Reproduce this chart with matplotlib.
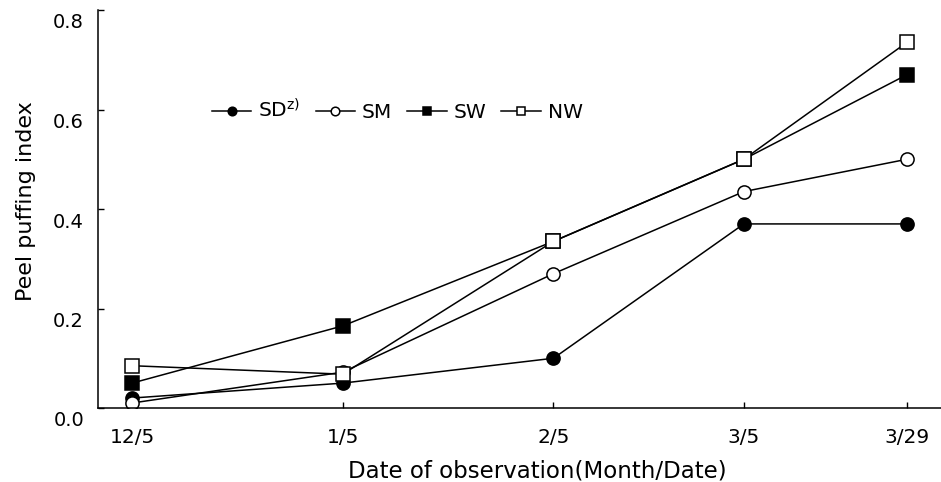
import matplotlib
matplotlib.use("Agg")
import matplotlib.pyplot as plt
import matplotlib.transforms as mtransforms

# Observation dates, expressed as days after 5 December
date_labels = ["12/5", "1/5", "2/5", "3/5", "3/29"]
date_days = [0, 31, 62, 90, 114]

# Peel puffing index for each treatment
sd_values = [0.02, 0.05, 0.10, 0.37, 0.37]
sm_values = [0.01, 0.072, 0.27, 0.435, 0.50]
sw_values = [0.05, 0.165, 0.335, 0.50, 0.67]
nw_values = [0.085, 0.068, 0.335, 0.50, 0.735]

y_ticks = [0.0, 0.2, 0.4, 0.6, 0.8]

fig = plt.figure(figsize=(9.41, 4.82), dpi=100)
ax = fig.add_axes([98 / 941, 74 / 482, 843 / 941, 398 / 482])

line_kw = dict(color="black", linewidth=1.1, markersize=9.5,
               markeredgewidth=1.1, markeredgecolor="black")
ax.plot(date_days, sd_values, marker="o", markerfacecolor="black",
        label="SD$^{\\mathregular{z)}}$", **line_kw)
ax.plot(date_days, sm_values, marker="o", markerfacecolor="white",
        label="SM", **line_kw)
ax.plot(date_days, sw_values, marker="s", markerfacecolor="black",
        label="SW", **line_kw)
ax.plot(date_days, nw_values, marker="s", markerfacecolor="white",
        label="NW", **line_kw)

ax.set_xlim(-5, 119)
ax.set_ylim(0, 0.8)
ax.set_xticks(date_days)
ax.set_xticklabels(date_labels)
ax.set_yticks(y_ticks)
ax.set_yticklabels([f"{v:.1f}" for v in y_ticks])

for side in ("top", "right"):
    ax.spines[side].set_visible(False)
for side in ("left", "bottom"):
    ax.spines[side].set_linewidth(1.1)

ax.tick_params(axis="both", direction="in", length=4, width=1.0)
ax.tick_params(axis="x", labelsize=14.5, pad=14.5)
ax.tick_params(axis="y", labelsize=14, pad=10)

# y tick labels sit slightly below their tick marks
shift = mtransforms.ScaledTranslation(0, -0.11, fig.dpi_scale_trans)
for lbl in ax.get_yticklabels():
    lbl.set_transform(lbl.get_transform() + shift)

ax.set_xlabel("Date of observation(Month/Date)", fontsize=16.5)
ax.xaxis.set_label_coords(0.521, -0.13)
ax.set_ylabel("Peel puffing index", fontsize=16)
ax.yaxis.set_label_coords(-0.073, 0.52)

ax.legend(loc="center left", bbox_to_anchor=((212 - 98) / 843, (408 - 110) / 398),
          ncol=4, frameon=False, fontsize=14.5, markerscale=0.65,
          handlelength=1.95, handletextpad=0.35, columnspacing=0.75,
          borderpad=0, borderaxespad=0)

fig.savefig("out.png", dpi=100)
